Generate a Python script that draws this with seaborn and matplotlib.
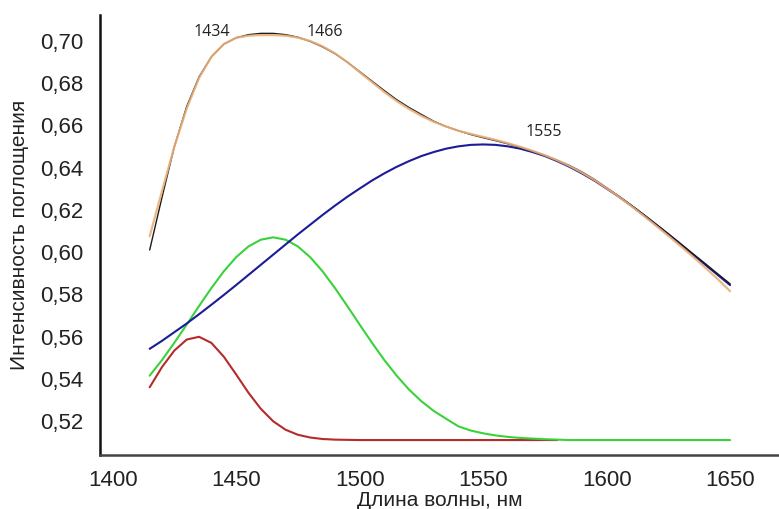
import numpy as np
import pandas as pd
import matplotlib
matplotlib.use("Agg")
import matplotlib.pyplot as plt
import seaborn as sns

# wavelength grid, nm
wavelength = [1415, 1420, 1425, 1430, 1435, 1440, 1445, 1450, 1455, 1460,
              1465, 1470, 1475, 1480, 1485, 1490, 1495, 1500, 1505, 1510,
              1515, 1520, 1525, 1530, 1535, 1540, 1545, 1550, 1555, 1560,
              1565, 1570, 1575, 1580, 1585, 1590, 1595, 1600, 1605, 1610,
              1615, 1620, 1625, 1630, 1635, 1640, 1645, 1650]

# measured spectrum (black)
measured = [0.601, 0.626, 0.650, 0.669, 0.683, 0.6925, 0.6985, 0.7015, 0.7030, 0.7036,
            0.7036, 0.7030, 0.7018, 0.6998, 0.6972, 0.6940, 0.6900, 0.6855, 0.6810, 0.6765,
            0.6722, 0.6685, 0.6652, 0.6620, 0.6595, 0.6575, 0.6557, 0.6542, 0.6528, 0.6513,
            0.6496, 0.6478, 0.6458, 0.6435, 0.6410, 0.6380, 0.6345, 0.6305, 0.6265, 0.6222,
            0.6178, 0.6133, 0.6087, 0.6040, 0.5992, 0.5945, 0.5897, 0.5850]

# fitted sum (orange)
fitted = [0.6075, 0.6290, 0.6500, 0.6680, 0.6825, 0.6925, 0.6985, 0.7015, 0.7025, 0.7028,
          0.7028, 0.7025, 0.7016, 0.7000, 0.6975, 0.6942, 0.6900, 0.6852, 0.6805, 0.6758,
          0.6715, 0.6678, 0.6645, 0.6617, 0.6595, 0.6575, 0.6560, 0.6546, 0.6532, 0.6516,
          0.6499, 0.6480, 0.6459, 0.6435, 0.6408, 0.6377, 0.6342, 0.6303, 0.6262, 0.6218,
          0.6172, 0.6125, 0.6077, 0.6028, 0.5978, 0.5926, 0.5872, 0.5815]

# band at 1555 nm (blue)
band_1555 = [0.5542, 0.5580, 0.5621, 0.5662, 0.5706, 0.5751, 0.5797, 0.5844, 0.5892, 0.5940,
             0.5988, 0.6036, 0.6084, 0.6130, 0.6176, 0.6220, 0.6262, 0.6301, 0.6339, 0.6373,
             0.6404, 0.6431, 0.6455, 0.6474, 0.6490, 0.6501, 0.6508, 0.6510, 0.6508, 0.6501,
             0.6490, 0.6474, 0.6455, 0.6431, 0.6404, 0.6373, 0.6339, 0.6301, 0.6262, 0.6220,
             0.6176, 0.6130, 0.6084, 0.6036, 0.5988, 0.5940, 0.5892, 0.5844]

# band at 1466 nm (green)
band_1466 = [0.5415, 0.5489, 0.5571, 0.5657, 0.5745, 0.5830, 0.5909, 0.5976, 0.6027, 0.6059,
             0.6070, 0.6059, 0.6027, 0.5976, 0.5909, 0.5830, 0.5745, 0.5657, 0.5571, 0.5489,
             0.5415, 0.5349, 0.5294, 0.5248, 0.5211, 0.5175, 0.5155, 0.5142, 0.5132, 0.5125,
             0.5120, 0.5117, 0.5114, 0.5112, 0.5110, 0.5110, 0.5110, 0.5110, 0.5110, 0.5110,
             0.5110, 0.5110, 0.5110, 0.5110, 0.5110, 0.5110, 0.5110, 0.5110]

# band at 1434 nm (red), drawn up to 1580 nm
wavelength_red = wavelength[:34]
band_1434 = [0.5360, 0.5456, 0.5534, 0.5586, 0.5599, 0.5570, 0.5505, 0.5421, 0.5334, 0.5258,
             0.5199, 0.5159, 0.5135, 0.5122, 0.5115, 0.5112, 0.5111, 0.5110, 0.5110, 0.5110,
             0.5110, 0.5110, 0.5110, 0.5110, 0.5110, 0.5110, 0.5110, 0.5110, 0.5110, 0.5110,
             0.5110, 0.5110, 0.5110, 0.5110]

peak_labels = ["1434", "1466", "1555"]
peak_label_x = [1440, 1486, 1574.5]
peak_label_y = [0.7044, 0.7044, 0.657]

sns.set_style("white")
plt.rcParams["font.family"] = ["Liberation Sans", "DejaVu Sans"]

fig = plt.figure(figsize=(7.79, 5.09), dpi=100)
ax = fig.add_axes([0.1284, 0.106, 0.8716, 0.8645])

df = pd.DataFrame({"x": wavelength, "measured": measured, "fitted": fitted,
                   "b1555": band_1555, "b1466": band_1466})
df_red = pd.DataFrame({"x": wavelength_red, "b1434": band_1434})

sns.lineplot(data=df_red, x="x", y="b1434", color="#b52a2a", lw=1.5, ax=ax)
sns.lineplot(data=df, x="x", y="b1466", color="#3ad23a", lw=1.5, ax=ax)
sns.lineplot(data=df, x="x", y="b1555", color="#1c1c96", lw=1.5, ax=ax)
sns.lineplot(data=df, x="x", y="measured", color="#1a1a1a", lw=1.0, ax=ax)
sns.lineplot(data=df, x="x", y="fitted", color="#eab07a", lw=1.6, alpha=0.9, ax=ax)

for lab, lx, ly in zip(peak_labels, peak_label_x, peak_label_y):
    ax.text(lx, ly, lab, ha="center", va="center", fontsize=11.5,
            family=["Open Sans", "DejaVu Sans"], color="#222222")

ax.set_xlim(1394.9, 1669.8)
ax.set_ylim(0.5039, 0.7123)
ax.set_xticks([1400, 1450, 1500, 1550, 1600, 1650])
ax.set_yticks([0.52, 0.54, 0.56, 0.58, 0.60, 0.62, 0.64, 0.66, 0.68, 0.70])
ax.set_yticklabels([f"{v:.2f}".replace(".", ",") for v in ax.get_yticks()])
ax.tick_params(length=0, labelsize=16, colors="#222222")
ax.tick_params(axis="y", pad=12)
ax.tick_params(axis="x", pad=11)

ax.set_xlabel("Длина волны, нм", fontsize=15, color="#222222", labelpad=0)
ax.set_ylabel("Интенсивность поглощения", fontsize=15, color="#222222", labelpad=8)

sns.despine(ax=ax)
ax.spines["left"].set_color("#111111")
ax.spines["left"].set_linewidth(1.8)
ax.spines["bottom"].set_color("#444444")
ax.spines["bottom"].set_linewidth(1.8)

fig.savefig("out.png", dpi=100)
